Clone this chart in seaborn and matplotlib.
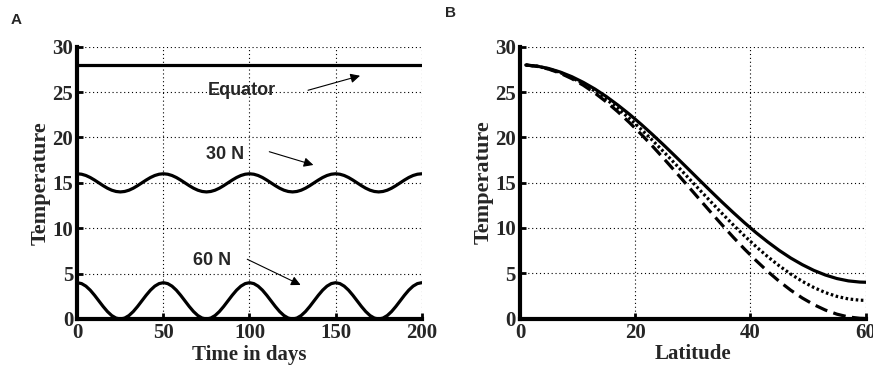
import numpy as np
import pandas as pd
import matplotlib
matplotlib.use("Agg")
import matplotlib.pyplot as plt
import seaborn as sns

# ---- Panel A data (time series, sampled every 2.5 days) ----
days = np.arange(0, 200.01, 2.5)
equator = [28.0] * 81
n30_period = [16.00, 15.95, 15.81, 15.59, 15.31, 15.00, 14.69, 14.41, 14.19, 14.05,
              14.00, 14.05, 14.19, 14.41, 14.69, 15.00, 15.31, 15.59, 15.81, 15.95]
n60_period = [4.00, 3.90, 3.62, 3.18, 2.62, 2.00, 1.38, 0.82, 0.38, 0.10,
              0.00, 0.10, 0.38, 0.82, 1.38, 2.00, 2.62, 3.18, 3.62, 3.90]
n30 = n30_period * 4 + [16.00]
n60 = n60_period * 4 + [4.00]

# ---- Panel B data (temperature vs latitude) ----
latitude = [1, 3, 5, 7, 9, 11, 13, 15, 17, 19, 21, 23, 25, 27, 29, 31, 33, 35, 37, 39,
            41, 43, 45, 47, 49, 51, 53, 55, 57, 59, 60]
t_solid = [27.98, 27.85, 27.59, 27.20, 26.69, 26.06, 25.33, 24.49, 23.55, 22.54,
           21.45, 20.30, 19.11, 17.88, 16.63, 15.37, 14.12, 12.89, 11.70, 10.55,
           9.46, 8.45, 7.51, 6.67, 5.94, 5.31, 4.80, 4.41, 4.15, 4.02, 4.00]
t_dotted = [27.98, 27.84, 27.56, 27.14, 26.58, 25.90, 25.10, 24.19, 23.18, 22.08,
            20.90, 19.66, 18.36, 17.03, 15.68, 14.32, 12.97, 11.64, 10.34, 9.10,
            7.92, 6.82, 5.81, 4.90, 4.10, 3.42, 2.86, 2.44, 2.16, 2.02, 2.00]
t_dashed = [27.98, 27.83, 27.52, 27.07, 26.47, 25.74, 24.88, 23.90, 22.81, 21.62,
            20.36, 19.02, 17.62, 16.19, 14.73, 13.27, 11.81, 10.38, 8.98, 7.64,
            6.38, 5.19, 4.10, 3.12, 2.26, 1.53, 0.93, 0.48, 0.17, 0.02, 0.00]

xticks_a = [0, 50, 100, 150, 200]
xticks_b = [0, 20, 40, 60]
yticks = [0, 5, 10, 15, 20, 25, 30]

sns.set_theme(style="white")
plt.rcParams["font.family"] = ["Liberation Serif", "DejaVu Serif"]

fig = plt.figure(figsize=(8.73, 3.72), dpi=100)
axA = fig.add_axes([77.3 / 873, 1 - 319 / 372, (421.7 - 77.3) / 873, 272.3 / 372])
axB = fig.add_axes([520 / 873, 1 - 318.5 / 372, (865.7 - 520) / 873, 271.8 / 372])

dfA = pd.DataFrame({"day": days, "eq": equator, "n30": n30, "n60": n60})
dfB = pd.DataFrame({"lat": latitude, "s": t_solid, "d": t_dotted, "k": t_dashed})

LW = 2.3
for col in ["eq", "n30", "n60"]:
    sns.lineplot(data=dfA, x="day", y=col, ax=axA, color="black", lw=LW)
sns.lineplot(data=dfB, x="lat", y="s", ax=axB, color="black", lw=LW)
sns.lineplot(data=dfB, x="lat", y="d", ax=axB, color="black", lw=LW, linestyle=(0, (0.8, 0.8)))
sns.lineplot(data=dfB, x="lat", y="k", ax=axB, color="black", lw=LW, linestyle=(0, (4, 2)))

tickfont = dict(family="Liberation Serif", weight="bold", size=15)
ylabfont = dict(family="Liberation Serif", weight="bold", size=16)
for ax, xt, xl, xlab in [(axA, xticks_a, 200, "Time in days"), (axB, xticks_b, 60, "Latitude")]:
    ax.set_xlim(0, xl)
    ax.set_ylim(0, 30)
    ax.set_xticks(xt)
    ax.set_yticks(yticks)
    ax.set_xticklabels([str(v) for v in xt], fontdict=tickfont)
    ax.set_yticklabels([str(v) for v in yticks], fontdict=tickfont)
    ax.set_xlabel(xlab, fontdict=tickfont, labelpad=1)
    ax.set_ylabel("Temperature", fontdict=ylabfont, labelpad=1)
    ax.grid(True, color="black", linestyle=(0, (1, 2.5)), linewidth=0.8)
    for s in ["top", "right"]:
        ax.spines[s].set_visible(False)
    for s in ["left", "bottom"]:
        ax.spines[s].set_linewidth(3)
        ax.spines[s].set_color("black")
        ax.spines[s].set_zorder(5)
    ax.tick_params(direction="in", length=4, width=2, color="black", pad=3,
                   left=True, bottom=True)
    ax.set_facecolor("white")

annfont = dict(family="Liberation Sans", weight="bold", size=13)
arrow = dict(arrowstyle="-|>", color="black", lw=0.8, mutation_scale=14, shrinkA=0, shrinkB=0)
axA.text(95.5, 25.15, "Equator", ha="center", va="center", fontdict=annfont)
axA.annotate("", xy=(164.2, 26.8), xytext=(134, 25.2), arrowprops=arrow)
axA.text(85.8, 18.07, "30 N", ha="center", va="center", fontdict=annfont)
axA.annotate("", xy=(137.1, 16.97), xytext=(111.5, 18.43), arrowprops=arrow)
axA.text(78.5, 6.5, "60 N", ha="center", va="center", fontdict=annfont)
axA.annotate("", xy=(129.7, 3.75), xytext=(98.7, 6.58), arrowprops=arrow)

fig.text(11 / 873, 1 - 20 / 372, "A", family="Liberation Sans", weight="bold", size=11, va="center")
fig.text(445 / 873, 1 - 13 / 372, "B", family="Liberation Sans", weight="bold", size=11, va="center")

fig.savefig("out.png", dpi=100, facecolor="white")
